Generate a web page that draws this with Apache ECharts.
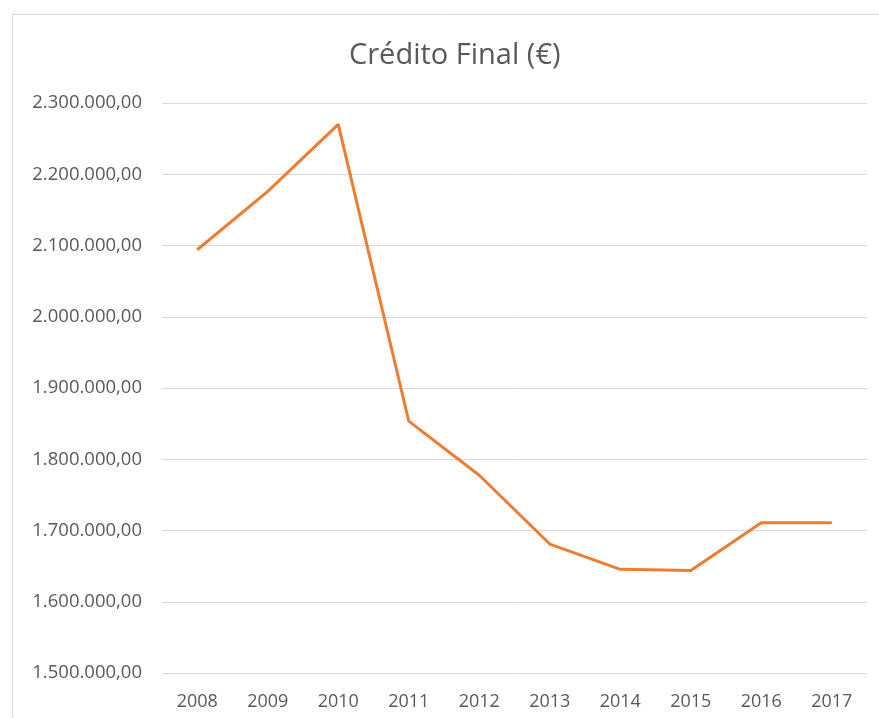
<!DOCTYPE html>
<html>
<head>
<meta charset="utf-8">
<script src="https://cdn.jsdelivr.net/npm/echarts@6/dist/echarts.min.js"></script>
<style>
  html, body { margin: 0; padding: 0; background: #fff; }
  #chart { width: 879px; height: 718px; }
</style>
</head>
<body>
<div id="chart"></div>
<script>
var anos = ['2008', '2009', '2010', '2011', '2012', '2013', '2014', '2015', '2016', '2017'];
var creditoFinal = [2094000, 2176000, 2270000, 1853500, 1777500, 1681000, 1645500, 1644000, 1711000, 1711000];

function fmt(v) {
  // 2300000 -> "2.300.000,00"
  var s = String(Math.round(v));
  s = s.replace(/\B(?=(\d{3})+(?!\d))/g, '.');
  return s + ',00';
}

var myChart = echarts.init(document.getElementById('chart'));
var option = {
  backgroundColor: '#fff',
  animation: false,
  title: {
    text: 'Crédito Final (€)',
    left: 344,
    top: 36,
    textStyle: { fontFamily: 'Open Sans', fontSize: 29, fontWeight: 'normal', color: '#595959' }
  },
  graphic: [{
    type: 'rect',
    shape: { x: 12.5, y: 14.5, width: 900, height: 800 },
    style: { fill: 'none', stroke: '#d9d9d9', lineWidth: 1 },
    silent: true
  }],
  grid: { left: 162, right: 12, top: 103, bottom: 45 },
  xAxis: {
    type: 'category',
    data: anos,
    boundaryGap: true,
    axisLine: { show: false },
    axisTick: { show: false },
    axisLabel: { fontFamily: 'Open Sans', fontSize: 18, color: '#595959', margin: 20 }
  },
  yAxis: {
    type: 'value',
    min: 1500000,
    max: 2300000,
    interval: 100000,
    axisLine: { show: false },
    axisTick: { show: false },
    splitLine: { lineStyle: { color: '#d9d9d9', width: 1 } },
    axisLabel: {
      fontFamily: 'Open Sans', fontSize: 18.5, color: '#595959', margin: 20,
      formatter: function (v) { return fmt(v); }
    }
  },
  series: [{
    name: 'Crédito Final',
    type: 'line',
    data: creditoFinal,
    symbol: 'none',
    lineStyle: { color: '#ED7D31', width: 3 },
    itemStyle: { color: '#ED7D31' }
  }]
};
myChart.setOption(option);
</script>
</body>
</html>
